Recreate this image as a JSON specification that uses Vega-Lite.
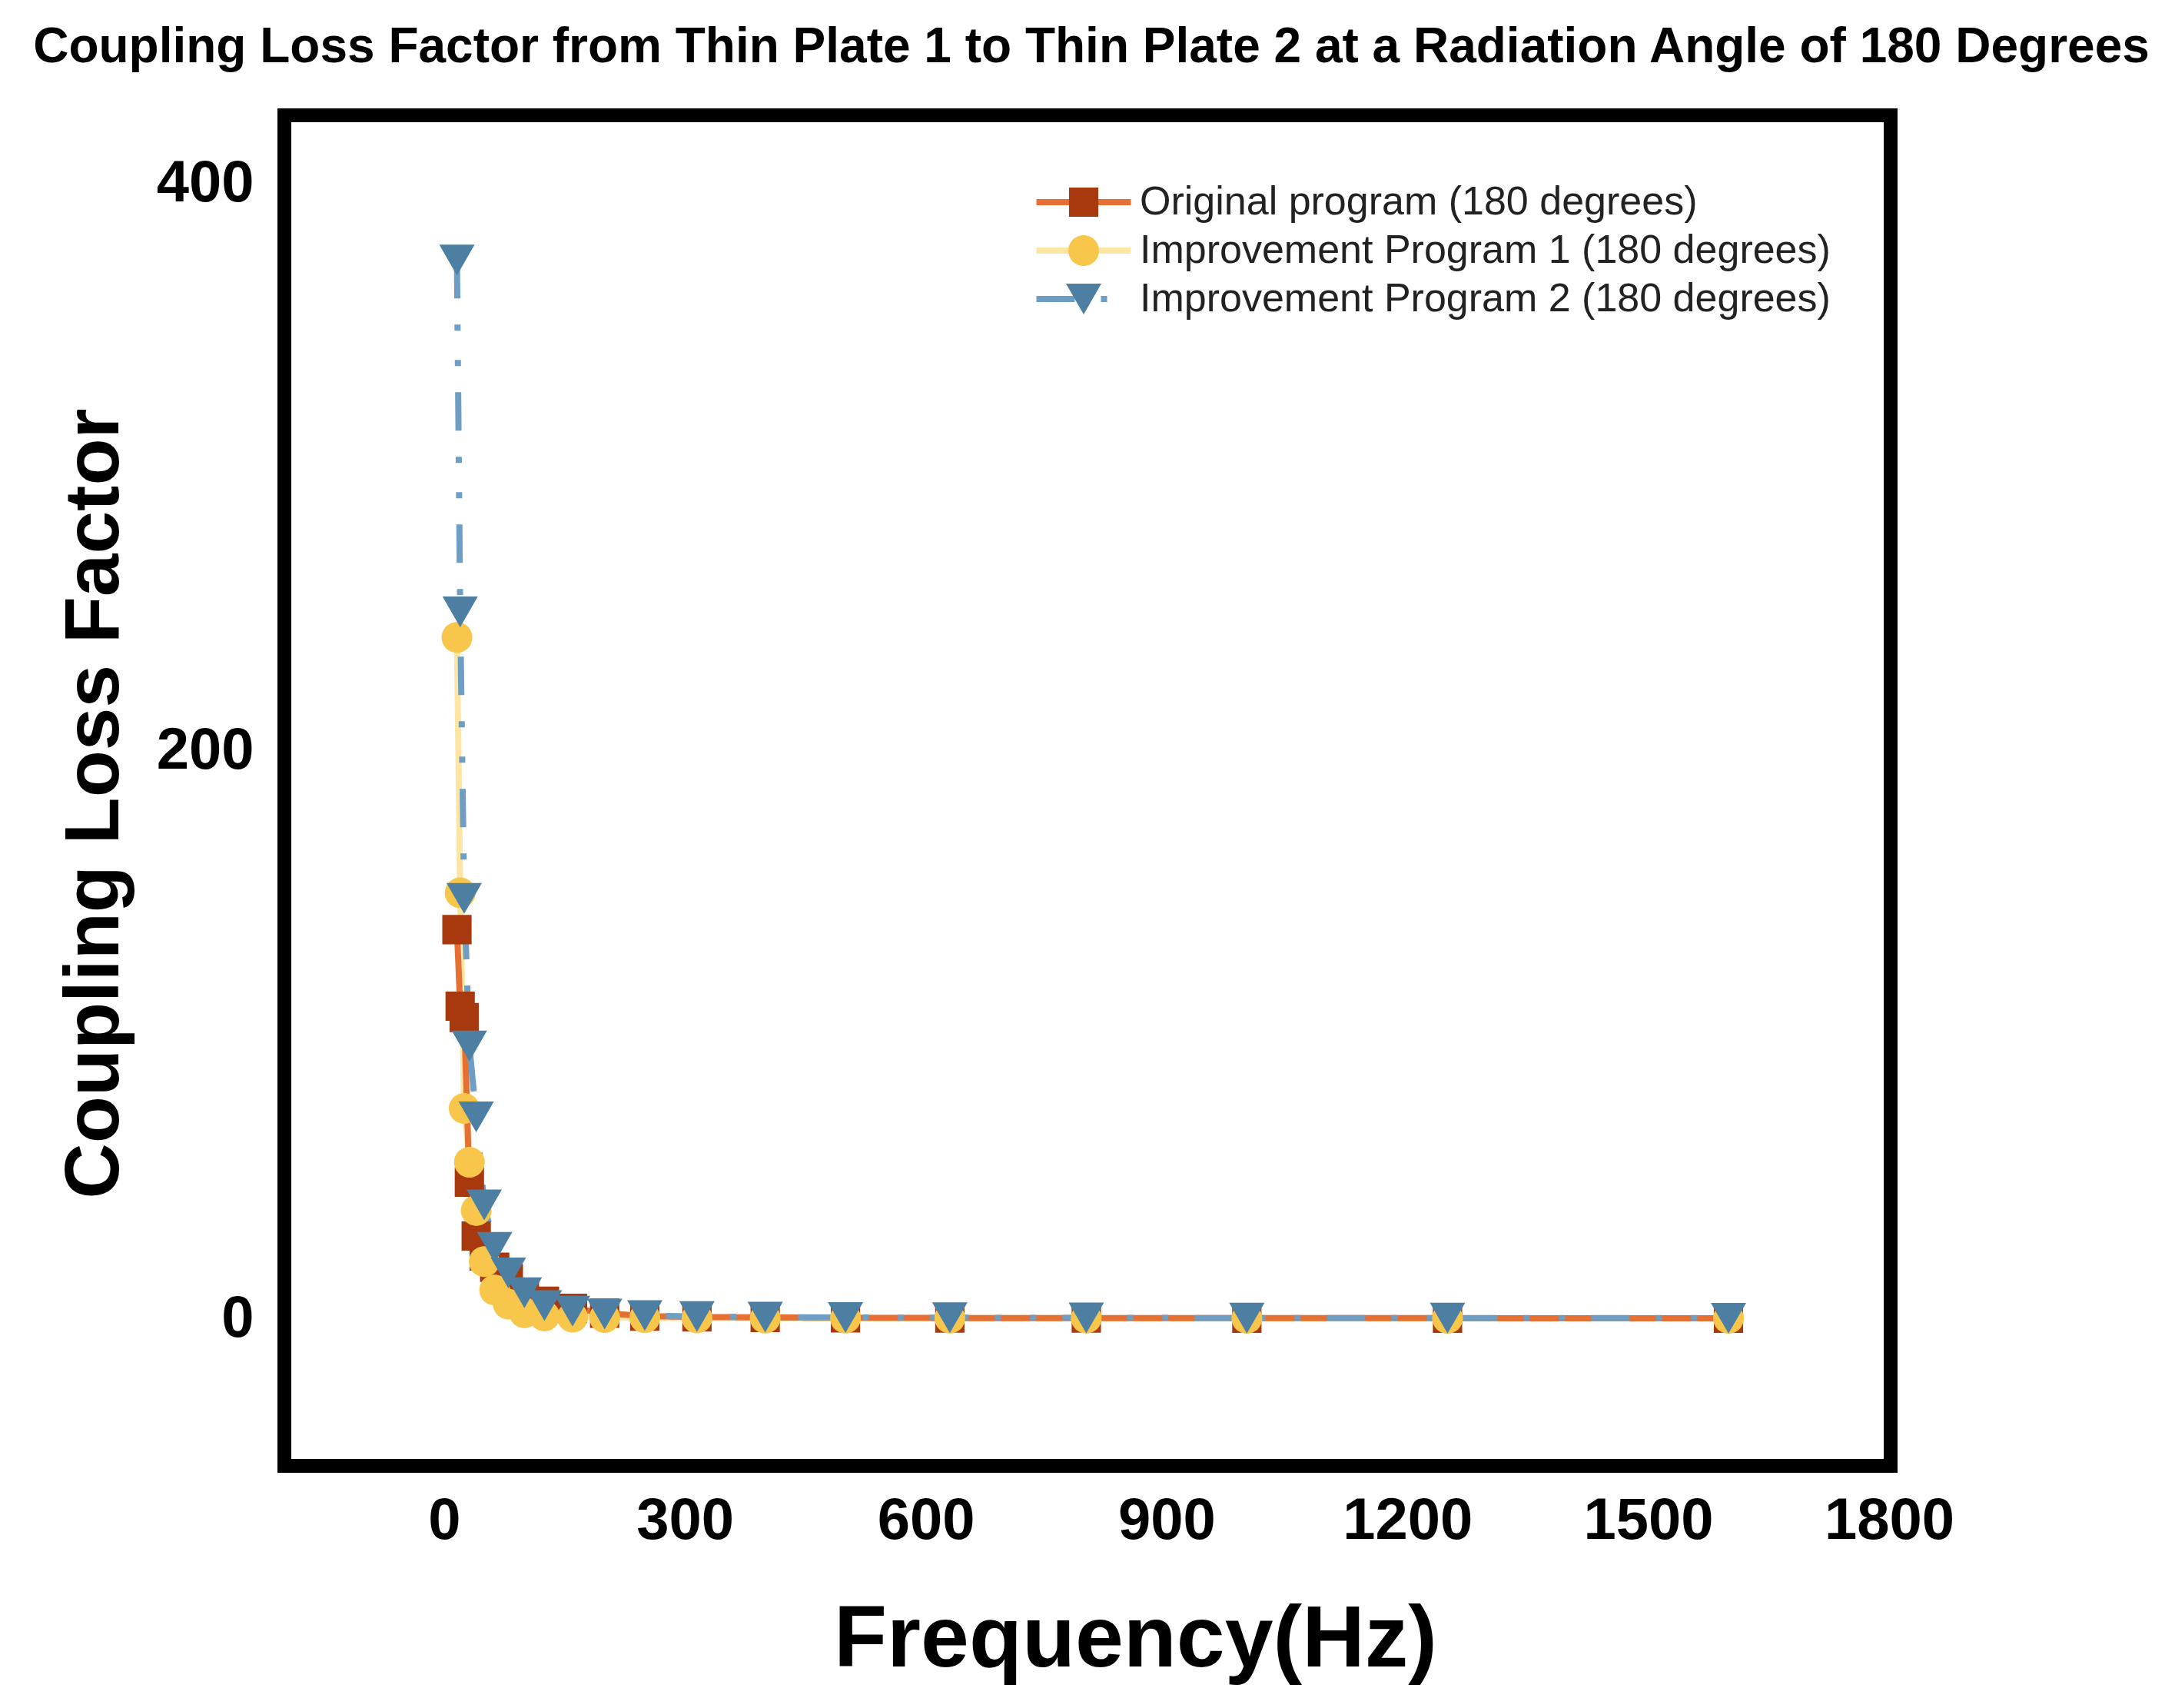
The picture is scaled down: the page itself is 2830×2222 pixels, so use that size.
{
  "$schema": "https://vega.github.io/schema/vega-lite/v6.json",
  "width": 2090,
  "height": 1757,
  "autosize": {"type": "none"},
  "padding": {"left": 370, "top": 150, "right": 370, "bottom": 315},
  "background": "white",
  "title": {
    "text": "Coupling Loss Factor from Thin Plate 1 to Thin Plate 2 at a Radiation Angle of 180 Degrees",
    "font": "Liberation Sans",
    "fontSize": 64,
    "fontWeight": "bold",
    "color": "black",
    "anchor": "middle",
    "frame": "group",
    "baseline": "alphabetic",
    "offset": 5,
    "dx": 5
  },
  "config": {
    "view": {"stroke": "black", "strokeWidth": 18},
    "axis": {
      "grid": false,
      "domain": false,
      "ticks": false,
      "labelFont": "Liberation Sans",
      "labelFontWeight": "bold",
      "labelFontSize": 76,
      "labelColor": "black",
      "labelFlush": false,
      "labelOverlap": false,
      "labelLimit": 1000,
      "titleFont": "Liberation Sans",
      "titleFontWeight": "bold",
      "titleColor": "black"
    },
    "legend": {
      "title": null,
      "orient": "none",
      "legendX": 974.5,
      "legendY": 87,
      "padding": 0,
      "clipHeight": 52,
      "rowPadding": 11,
      "symbolSize": 15129,
      "symbolStrokeWidth": 8,
      "symbolOffset": 0,
      "symbolOpacity": 1,
      "labelFont": "Liberation Sans",
      "labelFontSize": 52,
      "labelOffset": 7.5,
      "labelLimit": 2000
    }
  },
  "data": {
    "values": [
      {"f": 16, "v": 240, "s": "Improvement Program 1 (180 degrees)"},
      {"f": 20, "v": 150, "s": "Improvement Program 1 (180 degrees)"},
      {"f": 25, "v": 74, "s": "Improvement Program 1 (180 degrees)"},
      {"f": 31.5, "v": 55, "s": "Improvement Program 1 (180 degrees)"},
      {"f": 40, "v": 38, "s": "Improvement Program 1 (180 degrees)"},
      {"f": 50, "v": 20, "s": "Improvement Program 1 (180 degrees)"},
      {"f": 63, "v": 10, "s": "Improvement Program 1 (180 degrees)"},
      {"f": 80, "v": 5, "s": "Improvement Program 1 (180 degrees)"},
      {"f": 100, "v": 2, "s": "Improvement Program 1 (180 degrees)"},
      {"f": 125, "v": 0.8, "s": "Improvement Program 1 (180 degrees)"},
      {"f": 160, "v": 0.4, "s": "Improvement Program 1 (180 degrees)"},
      {"f": 200, "v": 0.3, "s": "Improvement Program 1 (180 degrees)"},
      {"f": 250, "v": 0.2, "s": "Improvement Program 1 (180 degrees)"},
      {"f": 315, "v": 0.15, "s": "Improvement Program 1 (180 degrees)"},
      {"f": 400, "v": 0.1, "s": "Improvement Program 1 (180 degrees)"},
      {"f": 500, "v": 0.08, "s": "Improvement Program 1 (180 degrees)"},
      {"f": 630, "v": 0.06, "s": "Improvement Program 1 (180 degrees)"},
      {"f": 800, "v": 0.05, "s": "Improvement Program 1 (180 degrees)"},
      {"f": 1000, "v": 0.04, "s": "Improvement Program 1 (180 degrees)"},
      {"f": 1250, "v": 0.03, "s": "Improvement Program 1 (180 degrees)"},
      {"f": 1600, "v": 0.02, "s": "Improvement Program 1 (180 degrees)"},
      {"f": 16, "v": 137, "s": "Original program (180 degrees)"},
      {"f": 20, "v": 110, "s": "Original program (180 degrees)"},
      {"f": 25, "v": 106, "s": "Original program (180 degrees)"},
      {"f": 31.5, "v": 48, "s": "Original program (180 degrees)"},
      {"f": 40, "v": 29, "s": "Original program (180 degrees)"},
      {"f": 50, "v": 22, "s": "Original program (180 degrees)"},
      {"f": 63, "v": 18, "s": "Original program (180 degrees)"},
      {"f": 80, "v": 14, "s": "Original program (180 degrees)"},
      {"f": 100, "v": 9, "s": "Original program (180 degrees)"},
      {"f": 125, "v": 6, "s": "Original program (180 degrees)"},
      {"f": 160, "v": 3.5, "s": "Original program (180 degrees)"},
      {"f": 200, "v": 1.8, "s": "Original program (180 degrees)"},
      {"f": 250, "v": 0.8, "s": "Original program (180 degrees)"},
      {"f": 315, "v": 0.5, "s": "Original program (180 degrees)"},
      {"f": 400, "v": 0.3, "s": "Original program (180 degrees)"},
      {"f": 500, "v": 0.2, "s": "Original program (180 degrees)"},
      {"f": 630, "v": 0.1, "s": "Original program (180 degrees)"},
      {"f": 800, "v": 0.1, "s": "Original program (180 degrees)"},
      {"f": 1000, "v": 0.05, "s": "Original program (180 degrees)"},
      {"f": 1250, "v": 0.05, "s": "Original program (180 degrees)"},
      {"f": 1600, "v": 0.03, "s": "Original program (180 degrees)"},
      {"f": 16, "v": 373, "s": "Improvement Program 2 (180 degrees)"},
      {"f": 20, "v": 249, "s": "Improvement Program 2 (180 degrees)"},
      {"f": 25, "v": 148, "s": "Improvement Program 2 (180 degrees)"},
      {"f": 31.5, "v": 96, "s": "Improvement Program 2 (180 degrees)"},
      {"f": 40, "v": 71, "s": "Improvement Program 2 (180 degrees)"},
      {"f": 50, "v": 40, "s": "Improvement Program 2 (180 degrees)"},
      {"f": 63, "v": 25, "s": "Improvement Program 2 (180 degrees)"},
      {"f": 80, "v": 16, "s": "Improvement Program 2 (180 degrees)"},
      {"f": 100, "v": 9, "s": "Improvement Program 2 (180 degrees)"},
      {"f": 125, "v": 4.5, "s": "Improvement Program 2 (180 degrees)"},
      {"f": 160, "v": 2.5, "s": "Improvement Program 2 (180 degrees)"},
      {"f": 200, "v": 1.5, "s": "Improvement Program 2 (180 degrees)"},
      {"f": 250, "v": 1, "s": "Improvement Program 2 (180 degrees)"},
      {"f": 315, "v": 0.6, "s": "Improvement Program 2 (180 degrees)"},
      {"f": 400, "v": 0.4, "s": "Improvement Program 2 (180 degrees)"},
      {"f": 500, "v": 0.3, "s": "Improvement Program 2 (180 degrees)"},
      {"f": 630, "v": 0.2, "s": "Improvement Program 2 (180 degrees)"},
      {"f": 800, "v": 0.15, "s": "Improvement Program 2 (180 degrees)"},
      {"f": 1000, "v": 0.1, "s": "Improvement Program 2 (180 degrees)"},
      {"f": 1250, "v": 0.08, "s": "Improvement Program 2 (180 degrees)"},
      {"f": 1600, "v": 0.05, "s": "Improvement Program 2 (180 degrees)"}
    ]
  },
  "layer": [
    {
      "mark": {"type": "line", "strokeWidth": 8},
      "encoding": {
        "x": {
          "field": "f",
          "type": "quantitative",
          "scale": {"domain": [-199, 1802], "nice": false, "zero": false},
          "axis": {
            "values": [0, 300, 600, 900, 1200, 1500, 1800],
            "format": "d",
            "labelPadding": 34,
            "title": "Frequency(Hz)",
            "titleFontSize": 113,
            "titleX": 1107,
            "titleY": 260,
            "titleBaseline": "alphabetic",
            "titleAlign": "center"
          }
        },
        "y": {
          "field": "v",
          "type": "quantitative",
          "scale": {"domain": [-52, 424], "nice": false, "zero": false},
          "axis": {
            "values": [0, 200, 400],
            "format": "d",
            "labelPadding": 40,
            "title": "Coupling Loss Factor",
            "titleFontSize": 100,
            "titleX": -217,
            "titleY": 895,
            "titleAngle": -90,
            "titleBaseline": "alphabetic",
            "titleAlign": "center"
          }
        },
        "color": {
          "field": "s",
          "type": "nominal",
          "scale": {
            "domain": ["Original program (180 degrees)", "Improvement Program 1 (180 degrees)", "Improvement Program 2 (180 degrees)"],
            "range": ["#e66f34", "#fde5a4", "#6e9ec4"]
          },
          "legend": {"symbolType": "stroke", "labelColor": "#222222"}
        },
        "strokeDash": {
          "field": "s",
          "type": "nominal",
          "scale": {
            "domain": ["Original program (180 degrees)", "Improvement Program 1 (180 degrees)", "Improvement Program 2 (180 degrees)"],
            "range": [[1, 0], [1, 0], [50, 34, 8, 38, 8, 34]]
          },
          "legend": {"symbolType": "stroke", "labelColor": "#222222"}
        }
      }
    },
    {
      "encoding": {
        "x": {"field": "f", "type": "quantitative"},
        "y": {"field": "v", "type": "quantitative"},
        "color": {
          "field": "s",
          "type": "nominal",
          "scale": {
            "domain": ["Original program (180 degrees)", "Improvement Program 1 (180 degrees)", "Improvement Program 2 (180 degrees)"],
            "range": ["#a8390f", "#f7c64a", "#4d7fa3"]
          },
          "legend": {"symbolStrokeColor": "transparent", "labelColor": "transparent"}
        },
        "shape": {
          "field": "s",
          "type": "nominal",
          "scale": {
            "domain": ["Original program (180 degrees)", "Improvement Program 1 (180 degrees)", "Improvement Program 2 (180 degrees)"],
            "range": [
              "M-0.31,-0.31H0.31V0.31H-0.31Z",
              "M-0.325,0A0.325,0.325,0,1,0,0.325,0A0.325,0.325,0,1,0,-0.325,0Z",
              "M-0.374,-0.325H0.374L0,0.325Z"
            ]
          },
          "legend": {"symbolStrokeColor": "transparent", "labelColor": "transparent"}
        }
      },
      "layer": [
        {
          "transform": [{"filter": {"field": "s", "equal": "Original program (180 degrees)"}}],
          "mark": {"type": "point", "filled": true, "opacity": 1, "size": 15129, "strokeWidth": 0}
        },
        {
          "transform": [{"filter": {"field": "s", "equal": "Improvement Program 1 (180 degrees)"}}],
          "mark": {"type": "point", "filled": true, "opacity": 1, "size": 15129, "strokeWidth": 0}
        },
        {
          "transform": [{"filter": {"field": "s", "equal": "Improvement Program 2 (180 degrees)"}}],
          "mark": {"type": "point", "filled": true, "opacity": 1, "size": 15129, "strokeWidth": 0}
        }
      ]
    }
  ],
  "resolve": {
    "scale": {"color": "independent", "shape": "independent", "strokeDash": "independent"},
    "legend": {"color": "independent", "shape": "independent", "strokeDash": "independent"}
  }
}
